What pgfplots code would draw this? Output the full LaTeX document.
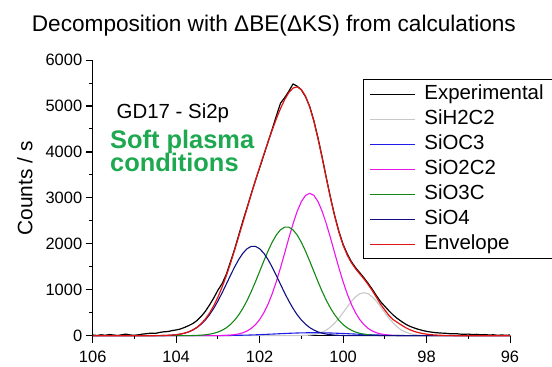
\documentclass[border=0pt]{standalone}
\usepackage{pgfplots}
\pgfplotsset{compat=1.18}
\usepackage{fontspec}
\setmainfont{Liberation Sans}
\definecolor{sih}{RGB}{200,200,200}
\definecolor{sioc}{RGB}{30,30,235}
\definecolor{siotwo}{RGB}{235,20,235}
\definecolor{siothree}{RGB}{20,135,20}
\definecolor{siofour}{RGB}{15,15,130}
\definecolor{env}{RGB}{225,20,20}
\definecolor{softg}{RGB}{30,168,80}
\begin{document}
\begin{tikzpicture}
\useasboundingbox (0,0) rectangle (552bp,367bp);
\begin{axis}[
 at={(92.7bp,31.3bp)}, anchor=south west,
 scale only axis, width=417.3bp, height=275.7bp,
 xmin=96, xmax=106, ymin=0, ymax=6000, x dir=reverse,
 axis x line*=bottom, axis y line*=left,
 xtick={96,98,100,102,104,106}, xticklabels={96,98,100,102,104,106},
 ytick={0,1000,2000,3000,4000,5000,6000}, yticklabels={0,1000,2000,3000,4000,5000,6000},
 tick align=outside,
 major tick length=7bp, minor tick length=3.5bp,
 tick style={black, line width=0.8bp},
 axis line style={line width=0.8bp},
 tick label style={font=\fontsize{16.5}{19}\selectfont},
 xticklabel style={yshift=-5bp},
 clip=false,
 legend style={at={(0.6485,0.930)}, anchor=north west, draw=black, line width=0.8bp,
   inner xsep=6bp, inner ysep=2bp, font=\fontsize{20.5}{24}\selectfont, row sep=0bp,
   nodes={inner xsep=3.5bp, inner ysep=2.5bp, text height=15bp, text depth=5bp},
   /tikz/every odd column/.append style={column sep=5bp}},
 legend cell align=left,
 legend image code/.code={\draw[#1] (2bp,0bp) -- (47bp,0bp);},
]
\addplot[black, line width=1.2bp, line join=round] table[row sep=\\]{x y\\
106.0 15\\105.9 5\\105.8 20\\105.7 10\\105.6 25\\105.5 15\\105.4 5\\105.3 20\\105.2 35\\105.1 15\\105.0 10\\104.9 20\\104.8 35\\104.7 45\\104.6 55\\104.5 50\\104.4 70\\104.3 85\\104.2 90\\104.1 110\\104.0 125\\103.9 145\\103.8 180\\103.7 220\\103.6 265\\103.5 330\\103.4 420\\103.3 530\\103.2 670\\103.1 820\\103.0 990\\102.9 1130\\102.8 1330\\102.7 1600\\102.6 1880\\102.5 2190\\102.4 2500\\102.3 2790\\102.2 3090\\102.1 3380\\102.0 3650\\101.9 3930\\101.8 4210\\101.7 4490\\101.6 4780\\101.5 5060\\101.4 5180\\101.3 5320\\101.2 5480\\101.1 5430\\101.0 5350\\100.9 5200\\100.8 4990\\100.7 4680\\100.6 4300\\100.5 3880\\100.4 3430\\100.3 3000\\100.2 2610\\100.1 2270\\100.0 1990\\99.9 1780\\99.8 1610\\99.7 1480\\99.6 1370\\99.5 1260\\99.4 1140\\99.3 1010\\99.2 870\\99.1 740\\99.0 640\\98.9 540\\98.8 450\\98.7 375\\98.6 310\\98.5 250\\98.4 205\\98.3 170\\98.2 140\\98.1 115\\98.0 95\\97.9 80\\97.8 68\\97.7 60\\97.6 55\\97.5 50\\97.4 40\\97.3 45\\97.2 35\\97.1 30\\97.0 35\\96.9 25\\96.8 30\\96.7 20\\96.6 25\\96.5 15\\96.4 20\\96.3 10\\96.2 15\\96.1 10\\96.0 15\\
};
\addlegendentry{Experimental}
\addplot[sih, line width=1.1bp, line join=round] table[row sep=\\]{x y\\
106 0\\101.3 0\\101.2 1\\101.1 2\\101.0 3\\100.9 7\\100.8 14\\100.7 26\\100.6 45\\100.5 77\\100.4 123\\100.3 189\\100.2 275\\100.1 380\\100.0 500\\99.9 627\\99.8 747\\99.7 846\\99.6 912\\99.5 935\\99.4 912\\99.3 846\\99.2 747\\99.1 627\\99.0 500\\98.9 380\\98.8 275\\98.7 189\\98.6 123\\98.5 77\\98.4 45\\98.3 26\\98.2 14\\98.1 7\\98.0 3\\97.9 2\\97.8 1\\97.7 0\\96 0\\
};
\addlegendentry{SiH2C2}
\addplot[sioc, line width=1.1bp, line join=round] table[row sep=\\]{x y\\
106 0\\103.5 0\\103.3 1\\103.1 2\\102.9 3\\102.7 5\\102.5 9\\102.3 13\\102.1 19\\101.9 27\\101.7 35\\101.5 44\\101.3 52\\101.1 59\\100.9 63\\100.7 65\\100.5 63\\100.3 59\\100.1 52\\99.9 44\\99.7 35\\99.5 27\\99.3 19\\99.1 13\\98.9 9\\98.7 5\\98.5 3\\98.3 2\\98.1 1\\97.9 0\\96 0\\
};
\addlegendentry{SiOC3}
\addplot[siotwo, line width=1.1bp, line join=round] table[row sep=\\]{x y\\
106 0\\103.2 0\\103.1 1\\103.0 2\\102.9 4\\102.8 7\\102.7 13\\102.6 23\\102.5 39\\102.4 64\\102.3 103\\102.2 159\\102.1 240\\102.0 350\\101.9 496\\101.8 681\\101.7 909\\101.6 1176\\101.5 1476\\101.4 1796\\101.3 2123\\101.2 2433\\101.1 2705\\101.0 2918\\100.9 3053\\100.8 3100\\100.7 3053\\100.6 2918\\100.5 2705\\100.4 2433\\100.3 2123\\100.2 1796\\100.1 1476\\100.0 1176\\99.9 909\\99.8 681\\99.7 496\\99.6 350\\99.5 240\\99.4 159\\99.3 103\\99.2 64\\99.1 39\\99.0 23\\98.9 13\\98.8 7\\98.7 4\\98.6 2\\98.5 1\\98.4 0\\96 0\\
};
\addlegendentry{SiO2C2}
\addplot[siothree, line width=1.1bp, line join=round] table[row sep=\\]{x y\\
106 0\\103.9 0\\103.8 1\\103.7 2\\103.6 4\\103.5 7\\103.4 12\\103.3 20\\103.2 33\\103.1 52\\103.0 79\\102.9 118\\102.8 171\\102.7 243\\102.6 336\\102.5 454\\102.4 597\\102.3 767\\102.2 961\\102.1 1173\\102.0 1398\\101.9 1624\\101.8 1840\\101.7 2033\\101.6 2192\\101.5 2304\\101.4 2363\\101.3 2363\\101.2 2304\\101.1 2192\\101.0 2033\\100.9 1840\\100.8 1624\\100.7 1398\\100.6 1173\\100.5 961\\100.4 767\\100.3 597\\100.2 454\\100.1 336\\100.0 243\\99.9 171\\99.8 118\\99.7 79\\99.6 52\\99.5 33\\99.4 20\\99.3 12\\99.2 7\\99.1 4\\99.0 2\\98.9 1\\98.8 0\\96 0\\
};
\addlegendentry{SiO3C}
\addplot[siofour, line width=1.1bp, line join=round] table[row sep=\\]{x y\\
106 0\\104.6 0\\104.5 1\\104.4 2\\104.3 4\\104.2 8\\104.1 13\\104.0 22\\103.9 35\\103.8 54\\103.7 83\\103.6 123\\103.5 177\\103.4 250\\103.3 342\\103.2 457\\103.1 595\\103.0 754\\102.9 930\\102.8 1119\\102.7 1310\\102.6 1494\\102.5 1660\\102.4 1796\\102.3 1893\\102.2 1944\\102.1 1944\\102.0 1893\\101.9 1796\\101.8 1660\\101.7 1494\\101.6 1310\\101.5 1119\\101.4 930\\101.3 754\\101.2 595\\101.1 457\\101.0 342\\100.9 250\\100.8 177\\100.7 123\\100.6 83\\100.5 54\\100.4 35\\100.3 22\\100.2 13\\100.1 8\\100.0 4\\99.9 2\\99.8 1\\99.7 0\\96 0\\
};
\addlegendentry{SiO4}
\addplot[env, line width=1.2bp, line join=round] table[row sep=\\]{x y\\
106 0\\104.7 0\\104.6 0\\104.5 1\\104.4 2\\104.3 4\\104.2 8\\104.1 13\\104.0 22\\103.9 35\\103.8 55\\103.7 85\\103.6 127\\103.5 184\\103.4 263\\103.3 363\\103.2 492\\103.1 650\\103.0 838\\102.9 1055\\102.8 1301\\102.7 1571\\102.6 1860\\102.5 2162\\102.4 2468\\102.3 2776\\102.2 3080\\102.1 3376\\102.0 3664\\101.9 3943\\101.8 4212\\101.7 4471\\101.6 4718\\101.5 4943\\101.4 5137\\101.3 5292\\101.2 5389\\101.1 5415\\101.0 5357\\100.9 5213\\100.8 4979\\100.7 4665\\100.6 4283\\100.5 3860\\100.4 3419\\100.3 2990\\100.2 2594\\100.1 2252\\100.0 1971\\99.9 1753\\99.8 1587\\99.7 1456\\99.6 1345\\99.5 1235\\99.4 1114\\99.3 980\\99.2 834\\99.1 683\\99.0 560\\98.9 440\\98.8 350\\98.7 290\\98.6 230\\98.5 175\\98.4 130\\98.3 95\\98.2 68\\98.1 48\\98.0 33\\97.9 22\\97.8 15\\97.7 10\\97.5 4\\97.3 0\\96 0\\
};
\addlegendentry{Envelope}
\end{axis}
\foreach \px in {92.7,176.16,259.62,343.08,426.54,510.0}{\draw[black, line width=0.9bp] (\px bp,31.3bp) -- (\px bp,24.3bp);}
\foreach \px in {134.43,217.89,301.35,384.81,468.27}{\draw[black, line width=0.9bp] (\px bp,31.3bp) -- (\px bp,27.6bp);}
\foreach \py in {31.3,77.25,123.2,169.15,215.1,261.05,307.0}{\draw[black, line width=0.9bp] (92.7bp,\py bp) -- (85.7bp,\py bp);}
\foreach \py in {54.275,100.225,146.175,192.125,238.075,284.025}{\draw[black, line width=0.9bp] (92.7bp,\py bp) -- (89.0bp,\py bp);}
\node[anchor=base west, inner sep=0pt, font=\fontsize{22.7}{26}\selectfont] at (31.7bp,335.3bp) {Decomposition with ΔBE(ΔKS) from calculations};
\node[rotate=90, inner sep=0pt, font=\fontsize{21}{25}\selectfont] at (25bp,178.5bp) {Counts / s};
\node[anchor=base west, inner sep=0pt, font=\fontsize{20.5}{24}\selectfont] at (116.5bp,248.7bp) {GD17 - Si2p};
\node[anchor=base west, inner sep=0pt, text=softg, font=\fontsize{25.5}{30}\selectfont\bfseries] at (110bp,218.7bp) {Soft plasma};
\node[anchor=base west, inner sep=0pt, text=softg, font=\fontsize{25.5}{30}\selectfont\bfseries] at (110bp,195.3bp) {conditions};
\end{tikzpicture}
\end{document}
